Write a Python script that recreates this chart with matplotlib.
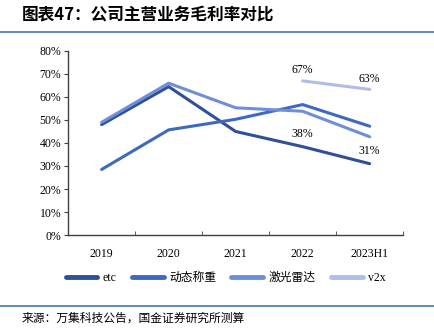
import matplotlib
matplotlib.use("Agg")
import matplotlib.pyplot as plt
from matplotlib.lines import Line2D

categories = ["2019", "2020", "2021", "2022", "2023H1"]
etc = [0.48, 0.645, 0.45, 0.384, 0.31]
dongtai = [0.285, 0.457, 0.503, 0.567, 0.473]
jiguang = [0.49, 0.66, 0.553, 0.538, 0.427]
v2x = [None, None, None, 0.67, 0.633]
yticks = [0, 0.1, 0.2, 0.3, 0.4, 0.5, 0.6, 0.7, 0.8]

cjk = ["Noto Sans CJK SC", "DejaVu Sans"]
serif = ["Liberation Serif", "Noto Sans CJK SC"]

fig = plt.figure(figsize=(4.34, 3.31), dpi=100)
ax = fig.add_axes([0.157, 0.290, 0.772, 0.556])

colors = ["#2E4F99", "#3D6AC0", "#6E8FD8", "#AFBDE8"]
names = ["etc", "动态称重", "激光雷达", "v2x"]
series = [etc, dongtai, jiguang, v2x]
x = list(range(len(categories)))
for s, c in zip(series, colors):
    xs = [xi for xi, v in zip(x, s) if v is not None]
    ys = [v for v in s if v is not None]
    ax.plot(xs, ys, color=c, lw=2.2, solid_capstyle="round")

# data labels
for xi in (3, 4):
    ax.text(xi, v2x[xi] + 0.02, f"{v2x[xi]*100:.0f}%", ha="center", va="bottom",
            fontsize=8.5, family=serif)
    ax.text(xi, etc[xi] + 0.03, f"{etc[xi]*100:.0f}%", ha="center", va="bottom",
            fontsize=8.5, family=serif)

ax.set_xlim(-0.5, len(categories) - 0.5)
ax.set_ylim(0, 0.8)
ax.set_yticks(yticks)
ax.set_yticklabels([f"{v*100:.0f}%" for v in yticks], family=serif, fontsize=8.5)
ax.set_xticks(x)
ax.set_xticklabels(categories, family=serif, fontsize=8.5)
ax.set_xticks([i - 0.5 for i in range(len(categories) + 1)], minor=True)
ax.tick_params(axis="x", which="major", length=0, pad=9)
ax.tick_params(axis="x", which="minor", direction="in", length=3, color="#404040")
ax.tick_params(axis="y", direction="out", length=3, color="#404040", pad=2)
for sp in ("top", "right"):
    ax.spines[sp].set_visible(False)
for sp in ("left", "bottom"):
    ax.spines[sp].set_color("#404040")
    ax.spines[sp].set_linewidth(1.0)

handles = [Line2D([0], [0], color=c, lw=3.5, solid_capstyle="round") for c in colors]
leg = fig.legend(handles, names, loc="center", bbox_to_anchor=(0.52, 0.16), ncol=4,
                 frameon=False, handlelength=2.7, columnspacing=1.3, handletextpad=0.45,
                 prop={"family": ["Liberation Serif", "Noto Sans CJK SC"], "size": 8.5})

fig.text(0.05, 0.955, "图表47：公司主营业务毛利率对比", family=cjk, fontsize=12,
         fontweight="bold", style="italic", ha="left", va="center")
fig.add_artist(Line2D([0, 1], [0.904, 0.904], color="#4F7FB8", lw=1.3))
fig.add_artist(Line2D([0, 1], [0.076, 0.076], color="#4F7FB8", lw=1.3))
fig.text(0.05, 0.038, "来源：万集科技公告，国金证券研究所测算", family=cjk, fontsize=8.5,
         ha="left", va="center")

fig.savefig("out.png", dpi=100)
